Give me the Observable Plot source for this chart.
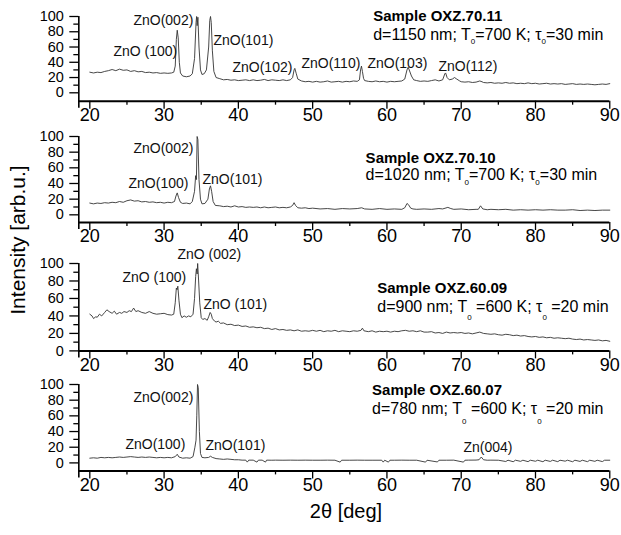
<!DOCTYPE html>
<html><head><meta charset="utf-8">
<script src="https://cdn.jsdelivr.net/npm/d3@7"></script>
<script src="https://cdn.jsdelivr.net/npm/@observablehq/plot@0.6"></script>
<style>
html,body{margin:0;padding:0;background:#fff;}
#chart{position:relative;width:621px;height:535px;overflow:hidden;background:#fff;font-family:"Liberation Sans",Arial,sans-serif;color:#000;}
#chart svg{position:absolute;left:0;overflow:visible;}
.ylab{position:absolute;left:17px;top:240px;transform:translate(-50%,-50%) rotate(-90deg);font-size:21px;white-space:nowrap;line-height:21px;}
.xlab{position:absolute;left:346px;top:501px;transform:translateX(-50%);font-size:20px;white-space:nowrap;line-height:20px;}
</style></head><body><div id="chart"></div>
<script>
const FONT = '"Liberation Sans", Arial, sans-serif';
const xTicks = [20,30,40,50,60,70,80,90];
const xMinor = [25,35,45,55,65,75,85];
const yTicks = [0,20,40,60,80,100];
const yMinor = [10,30,50,70,90];
const xLabel = "2θ [deg]";
const yLabel = "Intensity [arb.u.]";

// Sample OXZ.70.11
const trace1 = [[20,27],[20.5,26],[21,27],[21.5,26.5],[22,28],[22.5,29],[23,30.5],[23.5,29],[24,31],[24.5,29.5],[25,30],[25.5,28],[26,29],[26.5,27.5],[27,28],[27.5,26.5],[28,27],[28.5,26],[29,26.5],[29.5,25.5],[30,26],[30.5,25.5],[31,26],[31.3,27],[31.5,35],[31.65,70],[31.77,82],[31.9,72],[32.05,40],[32.2,26],[32.5,22],[33,21],[33.5,22],[33.8,25],[34.1,45],[34.3,92],[34.38,100],[34.45,88],[34.55,99],[34.7,60],[34.9,30],[35.1,24],[35.4,25],[35.7,30],[36,60],[36.15,95],[36.25,100],[36.35,92],[36.5,55],[36.7,28],[37,20],[37.5,18.5],[38,17],[38.5,17.5],[39,16.5],[39.5,17],[40,16],[40.5,16.5],[41,17],[41.5,16],[42,17],[42.5,16],[43,16.5],[43.5,17.5],[44,16],[44.5,17],[45,16.5],[45.5,16],[46,17],[46.5,16],[47,17],[47.3,20],[47.5,30],[47.6,32],[47.8,25],[48,18],[48.5,15.5],[49,14.5],[49.5,15],[50,14],[50.5,15],[51,14],[51.5,14.5],[52,15.5],[52.5,14],[53,14.5],[53.5,15],[54,14],[54.5,15],[55,14.5],[55.5,15.5],[56,15],[56.3,17],[56.45,30],[56.57,35],[56.7,28],[56.85,19],[57,16],[57.5,15],[58,14.5],[58.5,15.5],[59,14.5],[59.5,15],[60,14],[60.5,15],[61,14.5],[61.5,15],[62,15.5],[62.4,18],[62.7,30],[62.86,33.5],[63,30],[63.3,22],[63.6,17],[64,16],[64.5,15],[65,15.5],[65.5,15],[66,16],[66.5,17],[67,15.5],[67.5,17],[67.8,25],[67.9,26],[68.1,20],[68.4,17],[68.8,18],[69.1,20],[69.4,18],[69.8,15.5],[70,14.5],[70.5,14],[71,14.5],[71.5,13.5],[72,14],[72.5,15.5],[72.8,14.5],[73,13.5],[73.5,13],[74,13.5],[74.5,12.5],[75,13],[75.5,12.5],[76,13.5],[76.5,12.5],[77,13],[77.5,12],[78,12.5],[78.5,12],[79,13],[79.5,12],[80,12.5],[80.5,11.5],[81,12],[81.5,12.5],[82,11.5],[82.5,12],[83,11.5],[83.5,12],[84,11],[84.5,11.5],[85,12],[85.5,11],[86,11.5],[86.5,11],[87,11.5],[87.5,11],[88,10.5],[88.5,11],[89,11.5],[89.5,11],[90,12]];
// Sample OXZ.70.10
const trace2 = [[20,15],[20.5,14],[21,15],[21.5,14.5],[22,15.5],[22.5,15],[23,16],[23.5,15.5],[24,17],[24.5,16],[25,18],[25.5,19],[26,17.5],[26.5,18],[27,16.5],[27.5,17],[28,16],[28.5,16.5],[29,15.5],[29.5,16],[30,15],[30.5,16],[31,15.5],[31.4,17],[31.6,24],[31.77,28],[31.95,22],[32.2,16],[32.5,14.5],[33,15],[33.5,14],[33.8,17],[34.1,30],[34.25,50],[34.35,45],[34.45,100],[34.55,96],[34.7,45],[34.9,20],[35.1,14],[35.5,14.5],[35.9,20],[36.1,33],[36.25,37],[36.4,30],[36.6,17],[36.9,12],[37.5,11.5],[38,10.5],[38.5,11],[39,10],[39.5,11.5],[40,10],[40.5,10.5],[41,9.5],[41.5,10],[42,9.5],[42.5,10],[43,9],[43.5,10],[44,9],[44.5,9.5],[45,10],[45.5,9],[46,9.5],[46.5,9],[47,10],[47.3,12],[47.5,15.5],[47.7,12],[48,9],[48.5,8.5],[49,9],[49.5,8],[50,8.5],[51,7.5],[52,8],[53,7],[54,8],[55,7.5],[56,8],[56.6,9],[57,7.5],[58,7],[59,8],[60,7],[61,7.5],[62,7],[62.4,9],[62.7,14.5],[62.9,13],[63.2,8.5],[63.5,7.5],[64,7],[65,7.5],[66,7],[67,8],[67.5,7.5],[68.2,9.5],[68.6,8],[69,7],[70,7.5],[71,6.5],[72,7],[72.3,7],[72.6,11.5],[72.9,7.5],[73.5,6.5],[74,7],[75,6.5],[76,7],[77,6],[78,6.5],[79,6],[80,6.5],[81,6],[82,6.5],[83,6],[84,6],[85,6.5],[86,5.5],[87,6],[88,5.5],[89,6],[90,6]];
// Sample OXZ.60.09
const trace3 = [[20,42],[20.3,40],[20.5,37],[20.8,39],[21,38.5],[21.3,42],[21.6,40],[22,44],[22.3,47],[22.6,45],[23,43],[23.3,45.5],[23.6,42],[24,44],[24.3,43],[24.6,45],[25,44],[25.3,46],[25.6,45],[25.9,49],[26.2,45],[26.5,46],[27,44],[27.5,43],[28,45],[28.5,43],[29,42],[29.5,42.5],[30,43],[30.5,41.5],[31,41],[31.3,42],[31.5,55],[31.65,72],[31.75,70],[31.85,74],[32,58],[32.2,42],[32.4,38],[32.7,40],[33,38.5],[33.3,40],[33.6,39],[33.9,42],[34.1,60],[34.25,85],[34.35,94],[34.45,88],[34.52,100],[34.65,80],[34.8,55],[35,38],[35.2,36],[35.5,37],[35.8,35],[36,39],[36.2,44],[36.35,42],[36.5,37],[36.8,34],[37,33],[37.3,34],[37.6,31.5],[38,32],[38.5,30],[39,30.5],[39.5,29],[40,29.5],[40.5,28],[41,28.5],[41.5,27],[42,27.5],[42.5,26.5],[43,27],[43.5,25.5],[44,26],[44.5,24.5],[45,25.5],[45.5,24],[46,24.5],[46.5,23.5],[47,24],[47.5,23],[48,24],[48.5,22.5],[49,23],[49.5,22.5],[50,23.5],[50.5,22.5],[51,23.5],[51.5,22],[52,23],[52.5,22.5],[53,23.5],[53.5,22],[54,23],[54.5,22.5],[55,22],[55.5,23],[56,22.5],[56.5,23.5],[56.7,26],[56.9,23],[57.5,22],[58,23],[58.5,21.5],[59,22.5],[59.5,22],[60,22.5],[60.5,21.5],[61,22.5],[61.5,22],[62,23],[62.5,23.5],[63,22.5],[63.5,23],[64,22],[64.5,23],[65,21.5],[65.5,21.5],[66,22],[66.5,20.5],[67,21],[67.5,20],[68,21.5],[68.5,20.5],[69,21],[69.5,20.5],[70,21],[70.5,20],[71,20.5],[71.5,19.5],[72,20.5],[72.5,21.5],[73,20],[73.5,19.5],[74,19],[74.5,19.5],[75,18.5],[75.5,18],[76,19],[76.5,18.5],[77,17.5],[77.5,18],[78,17],[78.5,17.5],[79,16.5],[79.5,16],[80,16.5],[80.5,15.5],[81,16],[81.5,15],[82,15.5],[82.5,14.5],[83,15],[83.5,14.5],[84,14],[84.5,14.5],[85,13.5],[85.5,13],[86,13.5],[86.5,12.5],[87,13],[87.5,12.5],[88,12],[88.5,12.5],[89,11.5],[89.5,12],[90,11]];
// Sample OXZ.60.07
const trace4 = [[20,6],[20.5,6.5],[21,6],[21.5,7],[22,6.5],[22.5,7],[23,6.5],[23.5,7],[24,7.5],[24.5,7],[25,7.5],[25.5,8],[26,7.5],[26.5,7],[27,7.5],[27.5,7],[28,7.5],[28.5,7],[29,6.5],[29.5,7],[30,6.5],[30.5,7],[31,6.5],[31.5,8],[31.77,11],[32,7.5],[32.5,6],[33,6.5],[33.5,6],[33.9,8],[34.15,20],[34.3,29],[34.4,60],[34.5,100],[34.6,96],[34.75,40],[34.9,12],[35.1,7],[35.5,6.5],[36,7],[36.25,8.5],[36.5,7],[37,5.5],[37.5,5],[38,4.5],[38.5,5],[39,4.5],[39.5,4],[40,4],[40.5,3.5],[41,3.5],[41.2,1],[41.4,3.5],[42,3.5],[42.5,1],[42.7,3.5],[43.2,3.5],[43.65,1],[43.8,3.5],[44.5,3.4],[45,3.5],[46,3.4],[47,3.5],[48,3.4],[49,3.5],[50,3.4],[51,3.4],[52,3.5],[53,3.4],[53.7,1],[53.9,3.4],[55,3.4],[56,3.5],[57,3.4],[58,3.4],[59.3,3.4],[59.5,1],[59.7,3.4],[60.2,1],[60.4,3.4],[61,3.4],[62,3.5],[63,3.4],[64,3.4],[65.2,1],[65.4,3.4],[66.8,1.2],[67,3.4],[68,3.4],[69,3.5],[70.3,1],[70.5,3.4],[71,3.5],[72,3.6],[72.4,4],[72.7,7.5],[73,4],[73.5,3.4],[74,3.5],[75,3.4],[76,1.8],[76.3,3.4],[77,1.5],[77.3,3.4],[78,2],[78.3,3.4],[79,1.6],[79.3,3.4],[80,2.1],[80.3,3.4],[81,1.5],[81.3,3.4],[82,1.9],[82.3,3.4],[83,1.6],[83.3,3.4],[84,2.2],[84.3,3.4],[85,1.5],[85.3,3.4],[86,1.9],[86.3,3.4],[87,1.6],[87.3,3.4],[88,2],[88.3,3.4],[89,1.7],[89.3,3.4],[90,3.4]];

const peaks1 = [
  {label: "ZnO (100)", theta: 23.19, y: 47.6},
  {label: "ZnO(002)", theta: 25.88, y: 89.5},
  {label: "ZnO(101)", theta: 36.65, y: 62},
  {label: "ZnO(102)", theta: 39.21, y: 27.9},
  {label: "ZnO(110)", theta: 48.5, y: 32.5},
  {label: "ZnO(103)", theta: 57.38, y: 32.5},
  {label: "ZnO(112)", theta: 66.94, y: 29.2}
];
const peaks2 = [
  {label: "ZnO(100)", theta: 25.21, y: 34.5},
  {label: "ZnO(002)", theta: 25.88, y: 79.2},
  {label: "ZnO(101)", theta: 35.17, y: 39.6}
];
const peaks3 = [
  {label: "ZnO (100)", theta: 24.4, y: 78.6},
  {label: "ZnO (002)", theta: 31.8, y: 104.9},
  {label: "ZnO (101)", theta: 35.3, y: 47.7}
];
const peaks4 = [
  {label: "ZnO(100)", theta: 24.8, y: 17.5},
  {label: "ZnO(002)", theta: 25.88, y: 77.4},
  {label: "ZnO(101)", theta: 35.57, y: 16.2},
  {label: "Zn(004)", theta: 70.3, y: 13.6}
];

const titles = ["Sample OXZ.70.11", "Sample OXZ.70.10", "Sample OXZ.60.09", "Sample OXZ.60.07"];
const infos = ["d=1150 nm; T_0=700 K; τ_0=30 min", "d=1020 nm; T_0=700 K; τ_0=30 min", "d=900 nm; T_0 =600 K; τ_0 =20 min", "d=780 nm; T_0 =600 K; τ_0 =20 min"];

// layout (page pixels) for each panel
const panels = [
  {trace: trace1, peaks: peaks1, title: titles[0], info: infos[0], tx: 58.15, ty: 93.8, iy: 69.5, yTop: 16, axisY: 100.7, yMin: -11, sub: 4},
  {trace: trace2, peaks: peaks2, title: titles[1], info: infos[1], tx: 57.13, ty: 66.8, iy: 44.3, yTop: 135.7, axisY: 221.7, yMin: -9.8, sub: 5},
  {trace: trace3, peaks: peaks3, title: titles[2], info: infos[2], tx: 58.7, ty: 66.4, iy: 44.6, yTop: 263.3, axisY: 350.7, yMin: 0, sub: 8},
  {trace: trace4, peaks: peaks4, title: titles[3], info: infos[3], tx: 58.0, ty: 86.4, iy: 63, yTop: 384.3, axisY: 470.7, yMin: -10.2, sub: 11}
];

const X0 = 18.52, X1 = 90;
const chart = document.getElementById("chart");

panels.forEach(p => {
  const mt = 10, mb = 30;
  const top = p.yTop - mt;
  const height = p.axisY - top + mb;
  const svg = Plot.plot({
    width: 621, height, marginTop: mt, marginBottom: mb, marginLeft: 78.3, marginRight: 11.7,
    style: {fontFamily: FONT, fontSize: "18px", background: "transparent", overflow: "visible", color: "#000"},
    x: {domain: [X0, X1], ticks: xTicks, tickSize: 8, tickPadding: -1, tickFormat: d => String(d), label: null},
    y: {domain: [p.yMin, 100], ticks: yTicks, tickSize: 9, tickPadding: 6, tickFormat: d => String(d), label: null},
    marks: [
      Plot.ruleX(xMinor, {y1: p.yMin, y2: p.yMin, insetBottom: -4, stroke: "#000", strokeWidth: 1.3}),
      Plot.ruleY(yMinor, {x1: X0, x2: X0, insetLeft: -5, stroke: "#000", strokeWidth: 1.3}),
      Plot.ruleY([p.yMin], {x1: X0, x2: X1, stroke: "#000", strokeWidth: 2}),
      Plot.ruleX([X0], {y1: 100, y2: p.yMin, insetBottom: -7, stroke: "#000", strokeWidth: 1.6}),
      Plot.line(p.trace, {x: d => d[0], y: d => d[1], stroke: "#333", strokeWidth: 0.9}),
      Plot.text(p.peaks, {x: "theta", y: "y", text: "label", textAnchor: "start", lineAnchor: "bottom", fontSize: 14, fill: "#111"}),
      Plot.text([p.title], {x: () => p.tx, y: () => p.ty, text: d => d, textAnchor: "start", lineAnchor: "bottom", fontSize: 15, fontWeight: "bold", fill: "#000"}),
      Plot.text([p.info], {x: () => p.tx, y: () => p.iy, text: d => d, textAnchor: "start", lineAnchor: "bottom", fontSize: 16, fill: "#000"})
    ]
  });
  svg.style.top = top + "px";
  const s = d3.select(svg);
  s.selectAll('g[aria-label^="y-axis"]').attr("font-size", 14.5);
  s.selectAll('g[aria-label^="y-axis"] text').attr("font-size", 14.5);
  s.selectAll('g[aria-label^="x-axis"] text').attr("font-size", 18);
  s.selectAll('g[aria-label$="axis tick"] path, g[aria-label$="axis"] line').attr("stroke-width", 1.3);
  s.selectAll("text").each(function() {
    const t = this.textContent;
    if (!t.includes("_0")) return;
    const parts = t.split("_0");
    const el = d3.select(this);
    el.text(null);
    parts.forEach((part, i) => {
      if (i > 0) {
        el.append("tspan").attr("dy", p.sub).attr("font-size", 8).text("0");
        el.append("tspan").attr("dy", -p.sub).text(part);
      } else {
        el.append("tspan").text(part);
      }
    });
  });
  chart.appendChild(svg);
});

const yl = document.createElement("div");
yl.className = "ylab"; yl.textContent = yLabel; chart.appendChild(yl);
const xl = document.createElement("div");
xl.className = "xlab"; xl.textContent = xLabel; chart.appendChild(xl);
</script></body></html>
